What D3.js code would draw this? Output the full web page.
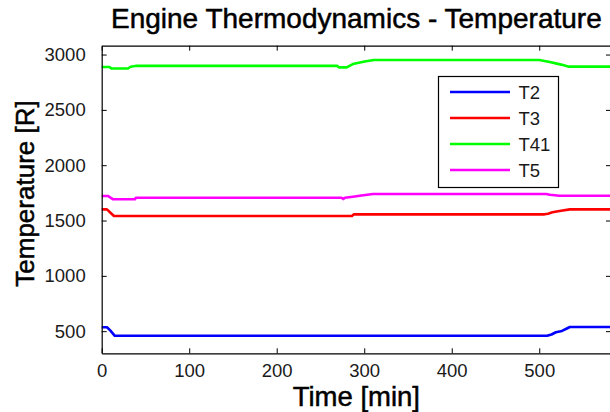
<!DOCTYPE html>
<html>
<head>
<meta charset="utf-8">
<script src="https://cdn.jsdelivr.net/npm/d3@7"></script>
<style>
  html, body { margin: 0; padding: 0; background: #ffffff; }
  svg { display: block; font-family: "Liberation Sans", Arial, Helvetica, sans-serif; }
</style>
</head>
<body>
<svg id="chart" width="610" height="412"></svg>
<script>
// Engine temperature traces, [time (min), temperature (R)]
const seriesNames = ["T2", "T3", "T41", "T5"];
const seriesColors = ["#0000ff", "#ff0000", "#00ff00", "#ff00ff"];

const t2 = [[0, 535], [6, 535], [10, 505], [15, 458], [509, 458], [514, 470], [519, 490],
            [526, 502], [531, 522], [535, 538], [582, 538]];
const t3 = [[0, 1601], [6, 1601], [10, 1570], [14, 1541], [286, 1541], [288, 1556],
            [506, 1556], [510, 1562], [515, 1574], [525, 1589], [535, 1601], [582, 1601]];
const t41 = [[0, 2887], [9, 2887], [11, 2874], [30, 2874], [33, 2890], [40, 2898],
             [269, 2898], [271, 2884], [280, 2884], [287, 2914], [302, 2939], [311, 2951],
             [500, 2951], [512, 2933], [525, 2909], [533, 2891], [582, 2891]];
const t5 = [[0, 1722], [7, 1722], [13, 1692], [38, 1692], [39, 1706], [274, 1706],
            [276, 1694], [278, 1706], [287, 1715], [299, 1728], [310, 1740], [508, 1740],
            [512, 1733], [523, 1724], [582, 1724]];
const seriesData = [t2, t3, t41, t5];

const xTicks = [0, 100, 200, 300, 400, 500];
const yTicks = [500, 1000, 1500, 2000, 2500, 3000];
const xDomain = [0, 582];
const yDomain = [300, 3080];

const titleText = "Engine Thermodynamics - Temperature";
const xLabel = "Time [min]";
const yLabel = "Temperature [R]";

// Plot box
const plotLeft = 101.7, plotRight = 611, plotTop = 45.7, plotBottom = 353.3;

const svg = d3.select("#chart");
const x = d3.scaleLinear().domain(xDomain).range([plotLeft, plotRight]);
const y = d3.scaleLinear().domain(yDomain).range([plotBottom, plotTop]);
const fmt = d3.format("d");

// Lines
const line = d3.line().x(d => x(d[0])).y(d => y(d[1]));
const gLines = svg.append("g");
seriesData.forEach((s, i) => {
  gLines.append("path")
    .datum(s)
    .attr("d", line)
    .attr("fill", "none")
    .attr("stroke", seriesColors[i])
    .attr("stroke-width", 2.6)
    .attr("stroke-linejoin", "round");
});

// Axes: ticks point inward, box on all four sides
const tickLen = 5;
const axisStyle = g => {
  g.selectAll(".domain").attr("stroke", "#000").attr("stroke-width", 1.2);
  g.selectAll(".tick line").attr("stroke", "#000").attr("stroke-width", 1);
  g.selectAll(".tick text").attr("fill", "#1a1a1a").attr("font-size", 18.5);
};

svg.append("g")
  .attr("transform", `translate(0,${plotBottom})`)
  .call(d3.axisBottom(x).tickValues(xTicks).tickFormat(fmt).tickSizeInner(-tickLen).tickSizeOuter(0).tickPadding(11))
  .call(axisStyle);

svg.append("g")
  .attr("transform", `translate(0,${plotTop})`)
  .call(d3.axisTop(x).tickValues(xTicks).tickSizeInner(-tickLen).tickSizeOuter(0).tickFormat(""))
  .call(axisStyle);

svg.append("g")
  .attr("transform", `translate(${plotLeft},0)`)
  .call(d3.axisLeft(y).tickValues(yTicks).tickFormat(fmt).tickSizeInner(-tickLen).tickSizeOuter(0).tickPadding(16))
  .call(axisStyle);

svg.append("g")
  .attr("transform", `translate(${plotRight},0)`)
  .call(d3.axisRight(y).tickValues(yTicks).tickSizeInner(-tickLen).tickSizeOuter(0).tickFormat(""))
  .call(axisStyle);

// Title and axis labels
svg.append("text")
  .attr("x", (plotLeft + plotRight) / 2)
  .attr("y", 28)
  .attr("text-anchor", "middle")
  .attr("font-size", 28)
  .attr("fill", "#000")
  .attr("stroke", "#000").attr("stroke-width", 0.5)
  .text(titleText);

svg.append("text")
  .attr("x", (plotLeft + plotRight) / 2)
  .attr("y", 406)
  .attr("text-anchor", "middle")
  .attr("font-size", 27.5)
  .attr("fill", "#000")
  .attr("stroke", "#000").attr("stroke-width", 0.5)
  .text(xLabel);

svg.append("text")
  .attr("transform", `translate(34,${(plotTop + plotBottom) / 2 - 6}) rotate(-90)`)
  .attr("text-anchor", "middle")
  .attr("font-size", 26)
  .attr("fill", "#000")
  .attr("stroke", "#000").attr("stroke-width", 0.5)
  .text(yLabel);

// Legend
const legX = 438.5, legY = 76.5, legW = 120, legH = 111, rowH = 26;
const leg = svg.append("g");
leg.append("rect")
  .attr("x", legX).attr("y", legY).attr("width", legW).attr("height", legH)
  .attr("fill", "#fff").attr("stroke", "#000").attr("stroke-width", 1.2);
seriesNames.forEach((name, i) => {
  const ry = legY + 15.5 + i * rowH;
  leg.append("line")
    .attr("x1", legX + 11.5).attr("x2", legX + 71.5)
    .attr("y1", ry).attr("y2", ry)
    .attr("stroke", seriesColors[i]).attr("stroke-width", 2.6);
  leg.append("text")
    .attr("x", legX + 80).attr("y", ry)
    .attr("dy", "0.36em")
    .attr("font-size", 18.5)
    .attr("fill", "#1a1a1a")
    .text(name);
});
</script>
</body>
</html>
